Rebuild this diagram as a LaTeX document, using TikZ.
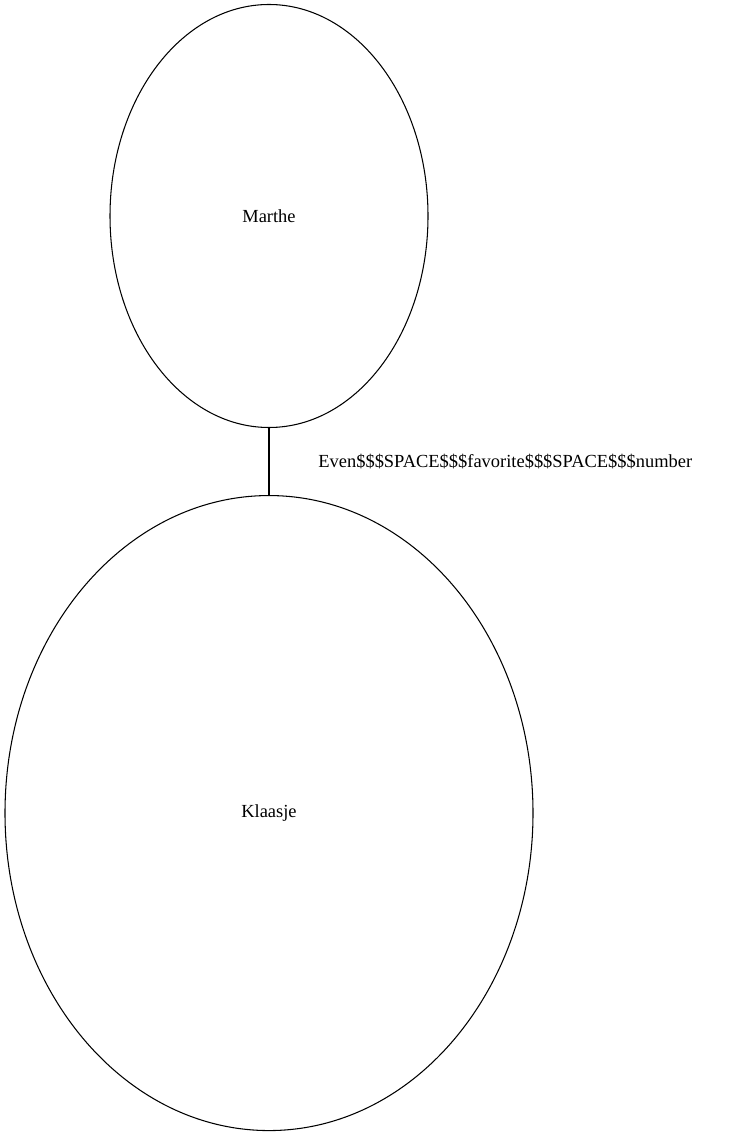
\documentclass[tikz,border=0pt]{standalone}
\usepackage{fontspec}
\setmainfont{Liberation Serif}
\usepackage{tikz}
\usetikzlibrary{
	shapes.geometric, positioning
}
\tikzstyle{person} = [ellipse, text centered, draw=black, inner sep=0pt, semithick]
\tikzstyle{small} = [person, minimum width=6.36cm, minimum height=8.46cm]
\tikzstyle{big} = [person, minimum width=10.56cm, minimum height=12.7cm]

\begin{document}
\begin{tikzpicture}  [node distance=1.34cm, font=\fontsize{10.5}{12.6}\selectfont]
			\useasboundingbox (0,0) rectangle (14.96,-22.7);
			\node[small] at (5.38,-4.32) (marthe){Marthe};
			\node[big, below=of marthe] (klaasje){Klaasje};
			
			%edge
			\draw [semithick] (marthe.south) -- node[anchor=west, xshift=0.86cm]{Even\$\$\$SPACE\$\$\$favorite\$\$\$SPACE\$\$\$number} (klaasje.north);
			
		\end{tikzpicture}
\end{document}
